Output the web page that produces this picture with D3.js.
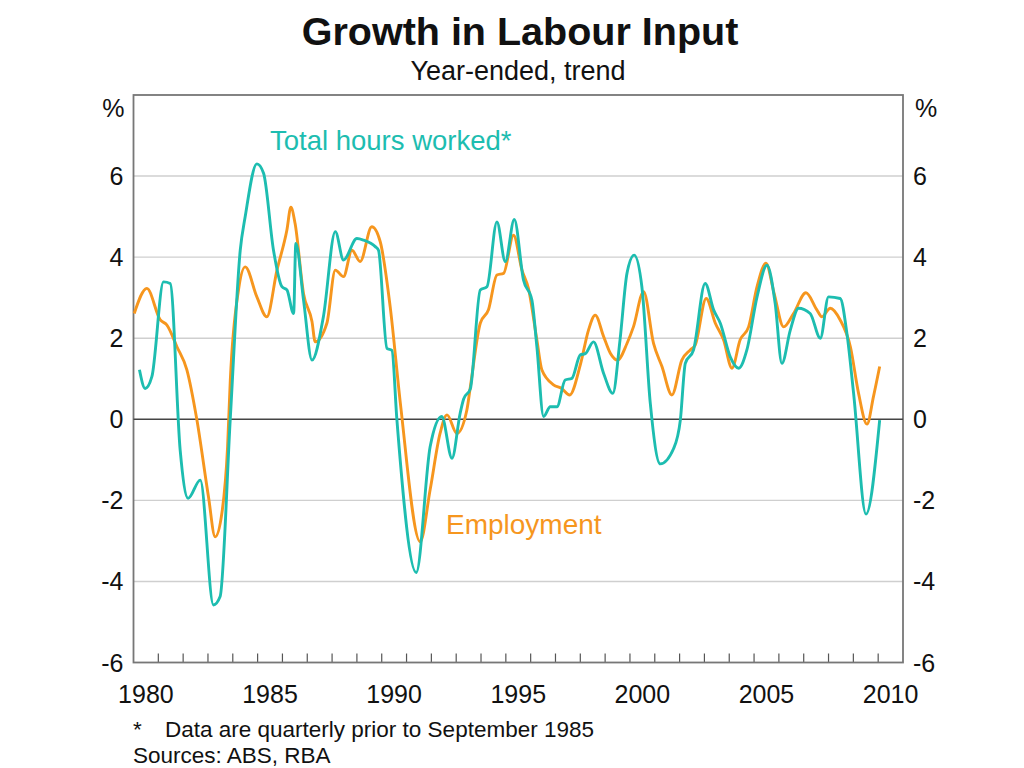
<!DOCTYPE html>
<html>
<head>
<meta charset="utf-8">
<script src="https://cdn.jsdelivr.net/npm/d3@7"></script>
<style>
  html, body { margin: 0; padding: 0; background: #fff; }
  svg { display: block; font-family: Arial, "Liberation Sans", Helvetica, sans-serif; }
</style>
</head>
<body>
<svg id="chart" width="1024" height="768"></svg>
<script>
// ---- Data (decimal years, % year-ended growth) ----
const hoursDates = [1980.24,1980.47,1980.74,1981.21,1981.48,1981.88,1982.20,1982.69,1983.22,1983.49,1983.90,1984.30,1984.50,1984.97,1985.24,1985.64,1985.98,1986.18,1986.45,1986.54,1986.85,1987.19,1987.65,1988.13,1988.46,1989.00,1989.27,1989.74,1989.87,1990.21,1990.41,1990.61,1991.39,1991.95,1992.42,1992.83,1993.16,1993.30,1993.57,1993.97,1994.24,1994.64,1994.98,1995.34,1995.71,1996.05,1996.25,1996.52,1996.79,1997.06,1997.39,1997.66,1998.00,1998.20,1998.53,1998.94,1999.31,1999.60,1999.88,2000.17,2000.48,2000.82,2001.22,2001.76,2002.03,2002.23,2002.56,2003.03,2003.37,2003.64,2004.04,2004.38,2004.71,2005.12,2005.52,2005.85,2006.12,2006.46,2006.79,2007.26,2007.67,2008.00,2008.47,2008.74,2009.01,2009.51,2010.06];
const hoursValues = [1.22,0.76,1.05,3.39,3.35,-0.76,-1.95,-1.5,-4.58,-4.37,0.03,4.17,5.0,6.3,6.07,4.17,3.27,3.19,2.61,4.34,2.94,1.46,2.53,4.63,3.93,4.46,4.42,4.26,4.17,1.75,1.7,0.0,-3.78,-0.68,0.07,-0.96,0.15,0.5,0.75,3.19,3.27,4.87,3.89,4.93,3.44,2.94,1.79,0.07,0.31,0.31,0.97,1.01,1.59,1.62,1.91,1.13,0.64,1.96,3.6,4.05,3.27,0.39,-1.1,-0.72,-0.02,1.38,1.71,3.35,2.7,2.37,1.54,1.26,1.71,3.02,3.8,2.86,1.38,2.2,2.74,2.61,2.0,3.02,2.98,2.12,0.64,-2.34,-0.02];

const employmentDates = [1980.03,1980.54,1981.08,1981.34,1981.75,1982.15,1982.55,1983.02,1983.29,1983.56,1983.79,1983.90,1984.23,1984.50,1984.97,1985.37,1985.78,1986.18,1986.34,1986.51,1986.85,1987.19,1987.32,1987.79,1988.13,1988.46,1988.80,1989.13,1989.60,1989.94,1990.34,1990.75,1991.55,1991.95,1992.35,1992.63,1993.03,1993.43,1993.57,1993.97,1994.30,1994.64,1994.91,1995.31,1995.65,1995.91,1996.25,1996.45,1996.92,1997.25,1997.57,1998.00,1998.33,1998.60,1998.94,1999.21,1999.50,1999.88,2000.14,2000.55,2000.95,2001.29,2001.69,2002.09,2002.43,2002.63,2003.07,2003.44,2003.77,2004.11,2004.44,2004.78,2005.12,2005.48,2005.81,2006.19,2006.59,2007.09,2007.53,2007.73,2008.07,2008.47,2008.88,2009.21,2009.55,2009.81,2010.06];
const employmentValues = [2.61,3.23,2.45,2.33,1.79,1.22,0.0,-1.91,-2.9,-2.32,-0.68,0.97,3.19,3.76,3.02,2.53,3.68,4.67,5.23,4.83,3.1,2.41,1.91,2.37,3.68,3.52,4.17,3.89,4.75,4.38,2.78,0.4,-3.02,-1.74,-0.35,0.11,-0.35,0.23,0.8,2.37,2.7,3.56,3.6,4.54,3.68,3.23,1.96,1.22,0.85,0.76,0.6,1.34,2.2,2.57,2.04,1.63,1.46,1.87,2.28,3.15,1.87,1.3,0.6,1.46,1.71,1.83,2.98,2.37,1.96,1.26,1.96,2.28,3.27,3.85,3.1,2.28,2.61,3.12,2.7,2.53,2.74,2.45,1.79,0.64,-0.12,0.56,1.3];

const yTicks = [-6, -4, -2, 0, 2, 4, 6];
const yearLabels = [1980, 1985, 1990, 1995, 2000, 2005, 2010];
const xDomain = [1980, 2011];
const yDomain = [-6, 8];

const title = "Growth in Labour Input";
const subtitle = "Year-ended, trend";
const hoursLabel = "Total hours worked*";
const employmentLabel = "Employment";
const footnote = "Data are quarterly prior to September 1985";
const sources = "Sources: ABS, RBA";

// ---- Layout ----
const teal = "#1DBDB0";
const orange = "#F6961E";
const plotLeft = 133.5, plotRight = 903, plotTop = 95, plotBottom = 662.5;

const svg = d3.select("#chart");
const x = d3.scaleLinear().domain(xDomain).range([plotLeft, plotRight]);
const y = d3.scaleLinear().domain(yDomain).range([plotBottom, plotTop]);

// Title
svg.append("text").attr("x", 520).attr("y", 45).attr("text-anchor", "middle")
  .attr("font-size", 39.5).attr("font-weight", "bold").attr("fill", "#111").text(title);
svg.append("text").attr("x", 518).attr("y", 80).attr("text-anchor", "middle")
  .attr("font-size", 27).attr("fill", "#111").text(subtitle);

// Gridlines
svg.append("g").selectAll("line").data(yTicks.filter(t => t !== 0 && t !== -6))
  .join("line")
  .attr("x1", plotLeft).attr("x2", plotRight)
  .attr("y1", d => y(d)).attr("y2", d => y(d))
  .attr("stroke", "#cfcfcf").attr("stroke-width", 1.4);

// Year ticks (inward from bottom axis)
const yearTicks = d3.range(xDomain[0] + 1, xDomain[1]);
svg.append("g").selectAll("line").data(yearTicks).join("line")
  .attr("x1", d => x(d)).attr("x2", d => x(d))
  .attr("y1", plotBottom).attr("y2", plotBottom - 9)
  .attr("stroke", "#555").attr("stroke-width", 1.2);

// Frame
svg.append("rect").attr("x", plotLeft).attr("y", plotTop)
  .attr("width", plotRight - plotLeft).attr("height", plotBottom - plotTop)
  .attr("fill", "none").attr("stroke", "#777").attr("stroke-width", 1.8);

// Zero line
svg.append("line").attr("x1", plotLeft).attr("x2", plotRight)
  .attr("y1", y(0)).attr("y2", y(0)).attr("stroke", "#444").attr("stroke-width", 1.6);

// Y axis labels (left and right)
const yl = svg.append("g").attr("font-size", 25).attr("fill", "#111");
yl.selectAll("text.l").data(yTicks).join("text").attr("class", "l")
  .attr("x", plotLeft - 10).attr("y", d => y(d)).attr("dy", "0.36em")
  .attr("text-anchor", "end").text(d => d);
yl.selectAll("text.r").data(yTicks).join("text").attr("class", "r")
  .attr("x", plotRight + 10).attr("y", d => y(d)).attr("dy", "0.36em")
  .attr("text-anchor", "start").text(d => d);
yl.append("text").attr("x", plotLeft - 9).attr("y", 108).attr("dy", "0.36em")
  .attr("text-anchor", "end").text("%");
yl.append("text").attr("x", plotRight + 12).attr("y", 108).attr("dy", "0.36em")
  .attr("text-anchor", "start").text("%");

// X labels centred in each labelled year
svg.append("g").attr("font-size", 25).attr("fill", "#111")
  .selectAll("text").data(yearLabels).join("text")
  .attr("x", d => x(d + 0.5)).attr("y", 703).attr("text-anchor", "middle").text(d => d);

// Lines
const line = d3.line().x(d => x(d[0])).y(d => y(d[1])).curve(d3.curveMonotoneX);
const empData = d3.zip(employmentDates, employmentValues);
const hrsData = d3.zip(hoursDates, hoursValues);

svg.append("path").datum(empData).attr("d", line)
  .attr("fill", "none").attr("stroke", orange).attr("stroke-width", 2.9).attr("stroke-linejoin", "round");
svg.append("path").datum(hrsData).attr("d", line)
  .attr("fill", "none").attr("stroke", teal).attr("stroke-width", 2.9).attr("stroke-linejoin", "round");

// Series labels
svg.append("text").attr("x", 270).attr("y", 150).attr("font-size", 27.5)
  .attr("fill", teal).text(hoursLabel);
svg.append("text").attr("x", 446).attr("y", 534).attr("font-size", 28)
  .attr("fill", orange).text(employmentLabel);

// Footnotes
const fn = svg.append("g").attr("font-size", 22.5).attr("fill", "#111");
fn.append("text").attr("x", 133).attr("y", 737).text("*");
fn.append("text").attr("x", 165).attr("y", 737).text(footnote);
fn.append("text").attr("x", 133).attr("y", 763).text(sources);
</script>
</body>
</html>
